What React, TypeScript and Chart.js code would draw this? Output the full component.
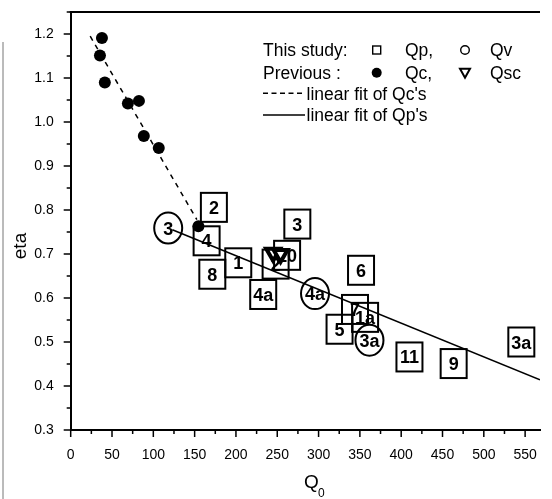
import React, { useEffect, useRef } from "react";
import { Chart, registerables } from "chart.js";

Chart.register(...registerables);

// Previous study: Qc (filled dots)
const qcX = [37.8, 35.4, 41.3, 69.2, 82.6, 88.5, 106.6, 154.6];
const qcY = [1.191, 1.151, 1.09, 1.042, 1.048, 0.968, 0.941, 0.763];

// This study: Qp (labelled squares)
const qpLabels = ["2", "4", "8", "1", "4a", "3", "10", "2", "6", "7", "1a", "5", "11", "9", "3a"];
const qpX = [173.3, 164.5, 171.4, 202.8, 233, 274.3, 261.9, 248, 351.4, 344.1, 356.3, 325.4, 410, 463.5, 545.4];
const qpY = [0.806, 0.73, 0.654, 0.68, 0.608, 0.768, 0.697, 0.677, 0.663, 0.574, 0.556, 0.529, 0.466, 0.451, 0.5];

// This study: Qv (labelled circles)
const qvLabels = ["3", "4a", "3a"];
const qvX = [118, 295.7, 361.6];
const qvY = [0.759, 0.61, 0.504];

// Previous: Qsc (triangles)
const qscX = [245, 254];
const qscY = [0.703, 0.7];

// Linear fits
const qcFitX = [23.6, 152.7];
const qcFitY = [1.195, 0.778];
const qpFitX = [123, 568];
const qpFitY = [0.755, 0.414];

const xTicks = [0, 50, 100, 150, 200, 250, 300, 350, 400, 450, 500, 550];
const yTicks = [0.3, 0.4, 0.5, 0.6, 0.7, 0.8, 0.9, 1.0, 1.1, 1.2];

const X_MIN = 0;
const X_MAX = 568;
const Y_MIN = 0.3;
const Y_MAX = 1.25;

const FONT = "'Liberation Sans', Arial, Helvetica, sans-serif";

const zip = (xs: number[], ys: number[]) => xs.map((x, i) => ({ x, y: ys[i] }));

const customPlugin = {
  id: "customDraw",
  beforeDatasetsDraw(chart: any) {
    const ctx: CanvasRenderingContext2D = chart.ctx;
    ctx.save();
    ctx.strokeStyle = "#000";
    ctx.fillStyle = "#000";
    ctx.lineWidth = 2;
    ctx.font = `bold 18px ${FONT}`;
    ctx.textAlign = "center";
    ctx.textBaseline = "alphabetic";
    // squares
    const metaP = chart.getDatasetMeta(4);
    metaP.data.forEach((el: any, i: number) => {
      const w = 26, h = 29;
      ctx.strokeRect(el.x - w / 2, el.y - h / 2, w, h);
      ctx.fillText(qpLabels[i], el.x, el.y + 6.5);
    });
    // circles
    const metaV = chart.getDatasetMeta(5);
    metaV.data.forEach((el: any, i: number) => {
      ctx.beginPath();
      ctx.ellipse(el.x, el.y, 14, 15.5, 0, 0, Math.PI * 2);
      ctx.stroke();
      ctx.fillText(qvLabels[i], el.x, el.y + 6.5);
    });
    ctx.restore();
  },
  afterDraw(chart: any) {
    const ctx: CanvasRenderingContext2D = chart.ctx;
    const xs = chart.scales.x;
    const ys = chart.scales.y;
    const { left, top, right, bottom } = chart.chartArea;
    ctx.save();
    ctx.strokeStyle = "#000";
    ctx.fillStyle = "#000";
    // top border
    ctx.lineWidth = 2;
    ctx.beginPath();
    ctx.moveTo(left - 1, top);
    ctx.lineTo(right, top);
    ctx.stroke();
    // x ticks
    ctx.lineWidth = 1.5;
    for (let v = 0; v <= X_MAX; v += 25) {
      const major = v % 50 === 0;
      const px = xs.getPixelForValue(v);
      ctx.beginPath();
      ctx.moveTo(px, bottom);
      ctx.lineTo(px, bottom + (major ? 7 : 4));
      ctx.stroke();
    }
    // y ticks
    for (let k = 0; k <= 19; k++) {
      const v = Y_MIN + k * 0.05;
      const major = k % 2 === 0;
      const py = ys.getPixelForValue(v);
      ctx.beginPath();
      ctx.moveTo(left, py);
      ctx.lineTo(left - (major ? 7 : 4), py);
      ctx.stroke();
    }
    // axis titles
    ctx.font = `19px ${FONT}`;
    ctx.textAlign = "left";
    ctx.textBaseline = "alphabetic";
    ctx.fillText("Q", 304, 488);
    ctx.font = `12px ${FONT}`;
    ctx.fillText("0", 318, 497);
    ctx.save();
    ctx.translate(26, 246);
    ctx.rotate(-Math.PI / 2);
    ctx.font = `19px ${FONT}`;
    ctx.textAlign = "center";
    ctx.fillText("eta", 0, 0);
    ctx.restore();

    // legend
    const lx = 263;
    const rows = [50, 72.7, 93.3, 115];
    ctx.font = `17.5px ${FONT}`;
    ctx.textAlign = "left";
    const base = 6.3;
    ctx.fillText("This study:", lx, rows[0] + base);
    ctx.fillText("Qp,", 405, rows[0] + base);
    ctx.fillText("Qv", 490, rows[0] + base);
    ctx.fillText("Previous :", lx, rows[1] + base);
    ctx.fillText("Qc,", 405, rows[1] + base);
    ctx.fillText("Qsc", 490, rows[1] + base);
    ctx.fillText("linear fit of Qc's", 306.5, rows[2] + base);
    ctx.fillText("linear fit of Qp's", 306.5, rows[3] + base);
    // legend markers
    ctx.lineWidth = 1.4;
    ctx.strokeRect(376.7 - 4, rows[0] - 4, 8, 8);
    ctx.beginPath();
    ctx.arc(465, rows[0], 4.3, 0, Math.PI * 2);
    ctx.stroke();
    ctx.beginPath();
    ctx.arc(376.7, rows[1], 5, 0, Math.PI * 2);
    ctx.fill();
    ctx.lineWidth = 2;
    ctx.beginPath();
    ctx.moveTo(460, rows[1] - 4);
    ctx.lineTo(470, rows[1] - 4);
    ctx.lineTo(465, rows[1] + 5);
    ctx.closePath();
    ctx.stroke();
    ctx.lineWidth = 1.5;
    ctx.setLineDash([5, 3.5]);
    ctx.beginPath();
    ctx.moveTo(lx, rows[2]);
    ctx.lineTo(305, rows[2]);
    ctx.stroke();
    ctx.setLineDash([]);
    ctx.beginPath();
    ctx.moveTo(lx, rows[3]);
    ctx.lineTo(305, rows[3]);
    ctx.stroke();

    // scan frame edge on the far left
    ctx.strokeStyle = "#777";
    ctx.lineWidth = 1;
    ctx.beginPath();
    ctx.moveTo(3, 42);
    ctx.lineTo(3, 499);
    ctx.stroke();
    ctx.restore();
  },
};

export default function App() {
  const ref = useRef<HTMLCanvasElement | null>(null);

  useEffect(() => {
    if (!ref.current) return;
    const chart = new Chart(ref.current, {
      type: "scatter",
      data: {
        datasets: [
          {
            type: "line",
            data: zip(qpFitX, qpFitY),
            borderColor: "#000",
            borderWidth: 1.6,
            pointRadius: 0,
            fill: false,
          } as any,
          {
            type: "line",
            data: zip(qcFitX, qcFitY),
            borderColor: "#000",
            borderWidth: 1.5,
            borderDash: [5, 5],
            pointRadius: 0,
            fill: false,
          } as any,
          {
            data: zip(qcX, qcY),
            pointStyle: "circle",
            pointRadius: 6,
            backgroundColor: "#000",
            borderColor: "#000",
            borderWidth: 0,
          },
          {
            data: zip(qscX, qscY),
            pointStyle: "triangle",
            rotation: 180,
            pointRadius: 8,
            backgroundColor: "#fff",
            borderColor: "#000",
            borderWidth: 4,
          } as any,
          {
            data: zip(qpX, qpY),
            pointRadius: 0,
          },
          {
            data: zip(qvX, qvY),
            pointRadius: 0,
          },
        ],
      },
      options: {
        responsive: false,
        animation: false,
        events: [],
        layout: { padding: { top: 6, right: 0, left: 0, bottom: 0 } },
        plugins: { legend: { display: false }, tooltip: { enabled: false } },
        scales: {
          x: {
            type: "linear",
            min: X_MIN,
            max: X_MAX,
            grid: { display: false },
            border: { display: true, color: "#000", width: 2 },
            afterBuildTicks: (s: any) => {
              s.ticks = xTicks.map((v) => ({ value: v }));
            },
            afterFit: (s: any) => {
              s.height = 69;
              s.paddingLeft = 0;
              s.paddingRight = 0;
            },
            ticks: {
              color: "#000",
              font: { family: FONT, size: 14 },
              padding: 9,
              maxRotation: 0,
              autoSkip: false,
              callback: (v: any) => String(v),
            },
          },
          y: {
            type: "linear",
            min: Y_MIN,
            max: Y_MAX,
            grid: { display: false },
            border: { display: true, color: "#000", width: 2 },
            afterBuildTicks: (s: any) => {
              s.ticks = yTicks.map((v) => ({ value: v }));
            },
            afterFit: (s: any) => {
              s.width = 70.7;
              s.paddingTop = 0;
              s.paddingBottom = 0;
            },
            ticks: {
              color: "#000",
              font: { family: FONT, size: 14 },
              padding: 9,
              autoSkip: false,
              callback: (v: any) => Number(v).toFixed(1),
            },
          },
        },
      },
      plugins: [customPlugin],
    });
    return () => chart.destroy();
  }, []);

  return (
    <div style={{ position: "absolute", left: 0, top: 0, width: 552, height: 499, background: "#fff" }}>
      <canvas ref={ref} width={552} height={499} style={{ display: "block" }} />
    </div>
  );
}
